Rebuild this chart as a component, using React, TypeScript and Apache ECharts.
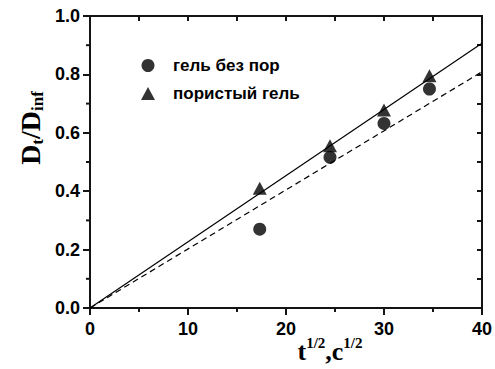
import React, { useEffect, useRef } from "react";
import * as echarts from "echarts";

// Measurement points: sqrt(t) vs relative value
const sqrtTime = [17.32, 24.49, 30.0, 34.64];
const gelNoPores = [0.27, 0.516, 0.632, 0.75];
const porousGel = [0.41, 0.556, 0.678, 0.795];

// Linear fits through the origin
const fitX = [0, 40];
const porousFitY = [0, 0.907];
const noPoresFitY = [0, 0.809];

const seriesNames = ["гель без пор", "пористый гель"];

// Minor tick positions on the bottom and left axes
const minorXTicks = [5, 15, 25, 35];
const minorYTicks = [0.1, 0.3, 0.5, 0.7, 0.9];

const pairs = (xs: number[], ys: number[]) => xs.map((x, i) => [x, ys[i]]);

const labelFont = "'Liberation Sans', Arial, sans-serif";
const titleFont = "'Liberation Serif', 'Times New Roman', serif";
const ink = "#141414";

export default function App() {
  const ref = useRef<HTMLDivElement>(null);

  useEffect(() => {
    if (!ref.current) return;
    document.body.style.margin = "0";
    const chart = echarts.init(ref.current, undefined, { renderer: "svg" });

    const axisLabel = {
      color: "#000",
      fontFamily: labelFont,
      fontWeight: "bold",
      fontSize: 18,
    };
    const frameLine = { color: ink, width: 2 };

    chart.setOption({
      animation: false,
      backgroundColor: "#fff",
      grid: {
        left: 90,
        right: 12,
        top: 16,
        bottom: 61,
        show: true,
        borderColor: ink,
        borderWidth: 2,
        backgroundColor: "transparent",
      },
      legend: {
        data: seriesNames,
        orient: "vertical",
        left: 136,
        top: 52,
        itemWidth: 14,
        itemHeight: 13,
        itemGap: 11,
        textStyle: {
          color: "#000",
          fontFamily: labelFont,
          fontWeight: "bold",
          fontSize: 17,
          padding: [0, 0, 0, 13],
        },
      },
      xAxis: [
        {
          type: "value",
          position: "bottom",
          min: 0,
          max: 40,
          interval: 10,
          axisLine: { show: true, onZero: false, lineStyle: { ...frameLine } },
          axisTick: { show: true, length: 7, lineStyle: { ...frameLine } },
          splitLine: { show: false },
          axisLabel: { ...axisLabel, margin: 12 },
        },
        {
          type: "value",
          position: "top",
          min: 0,
          max: 40,
          interval: 5,
          axisLine: { show: true, onZero: false, lineStyle: { ...frameLine } },
          axisTick: { show: true, inside: true, length: 5, lineStyle: { ...frameLine } },
          splitLine: { show: false },
          axisLabel: { show: false },
        },
      ],
      yAxis: [
        {
          type: "value",
          position: "left",
          min: 0,
          max: 1,
          interval: 0.2,
          axisLine: { show: true, onZero: false, lineStyle: { ...frameLine } },
          axisTick: { show: true, length: 7, lineStyle: { ...frameLine } },
          splitLine: { show: false },
          axisLabel: { ...axisLabel, margin: 10, formatter: (v: number) => v.toFixed(1) },
        },
        {
          type: "value",
          position: "right",
          min: 0,
          max: 1,
          interval: 0.1,
          axisLine: { show: true, onZero: false, lineStyle: { ...frameLine } },
          axisTick: { show: true, inside: true, length: 5, lineStyle: { ...frameLine } },
          splitLine: { show: false },
          axisLabel: { show: false },
        },
      ],
      series: [
        {
          name: "fit-porous",
          type: "line",
          xAxisIndex: 0,
          yAxisIndex: 0,
          data: pairs(fitX, porousFitY),
          symbol: "none",
          lineStyle: { color: "#000", width: 1.2 },
        },
        {
          name: "fit-no-pores",
          type: "line",
          xAxisIndex: 0,
          yAxisIndex: 0,
          data: pairs(fitX, noPoresFitY),
          symbol: "none",
          lineStyle: { color: "#000", width: 1.2, type: [6, 4] },
        },
        {
          name: seriesNames[0],
          type: "scatter",
          xAxisIndex: 0,
          yAxisIndex: 0,
          data: pairs(sqrtTime, gelNoPores),
          symbol: "circle",
          symbolSize: 13,
          itemStyle: { color: "#000" },
        },
        {
          name: seriesNames[1],
          type: "scatter",
          xAxisIndex: 0,
          yAxisIndex: 0,
          data: pairs(sqrtTime, porousGel),
          symbol: "triangle",
          symbolSize: [14, 13],
          itemStyle: { color: "#000" },
        },
      ],
      graphic: [
        {
          id: "y-title",
          type: "text",
          x: 30,
          y: 128,
          rotation: Math.PI / 2,
          style: {
            text: "{b|D}{s|t}{b|/D}{s|inf}",
            align: "center",
            verticalAlign: "middle",
            fill: "#000",
            rich: {
              b: { fontFamily: titleFont, fontWeight: "bold", fontSize: 28, fill: "#000" },
              s: {
                fontFamily: titleFont,
                fontWeight: "bold",
                fontSize: 17,
                fill: "#000",
                padding: [14, 0, 0, 0],
              },
            },
          },
        },
        {
          id: "x-title",
          type: "text",
          x: 330,
          y: 351,
          style: {
            text: "{b|t}{p|1/2}{b|,c}{p|1/2}",
            align: "center",
            verticalAlign: "middle",
            fill: "#000",
            rich: {
              b: { fontFamily: titleFont, fontWeight: "bold", fontSize: 26, fill: "#000" },
              p: {
                fontFamily: titleFont,
                fontWeight: "bold",
                fontSize: 15,
                fill: "#000",
                padding: [0, 0, 16, 0],
              },
            },
          },
        },
      ],
    });

    // Minor ticks, placed through the axes' own scales
    const toPx = (x: number, y: number) =>
      chart.convertToPixel({ xAxisIndex: 0, yAxisIndex: 0 }, [x, y]) as number[];
    const minor: any[] = [];
    minorXTicks.forEach((v, i) => {
      const p = toPx(v, 0);
      minor.push({
        id: "mx" + i,
        type: "line",
        shape: { x1: p[0], y1: p[1], x2: p[0], y2: p[1] + 4 },
        style: { stroke: ink, lineWidth: 2 },
      });
    });
    minorYTicks.forEach((v, i) => {
      const p = toPx(0, v);
      minor.push({
        id: "my" + i,
        type: "line",
        shape: { x1: p[0] - 4, y1: p[1], x2: p[0], y2: p[1] },
        style: { stroke: ink, lineWidth: 2 },
      });
    });
    chart.setOption({ graphic: minor });

    return () => chart.dispose();
  }, []);

  return <div ref={ref} style={{ width: 495, height: 369 }} />;
}
